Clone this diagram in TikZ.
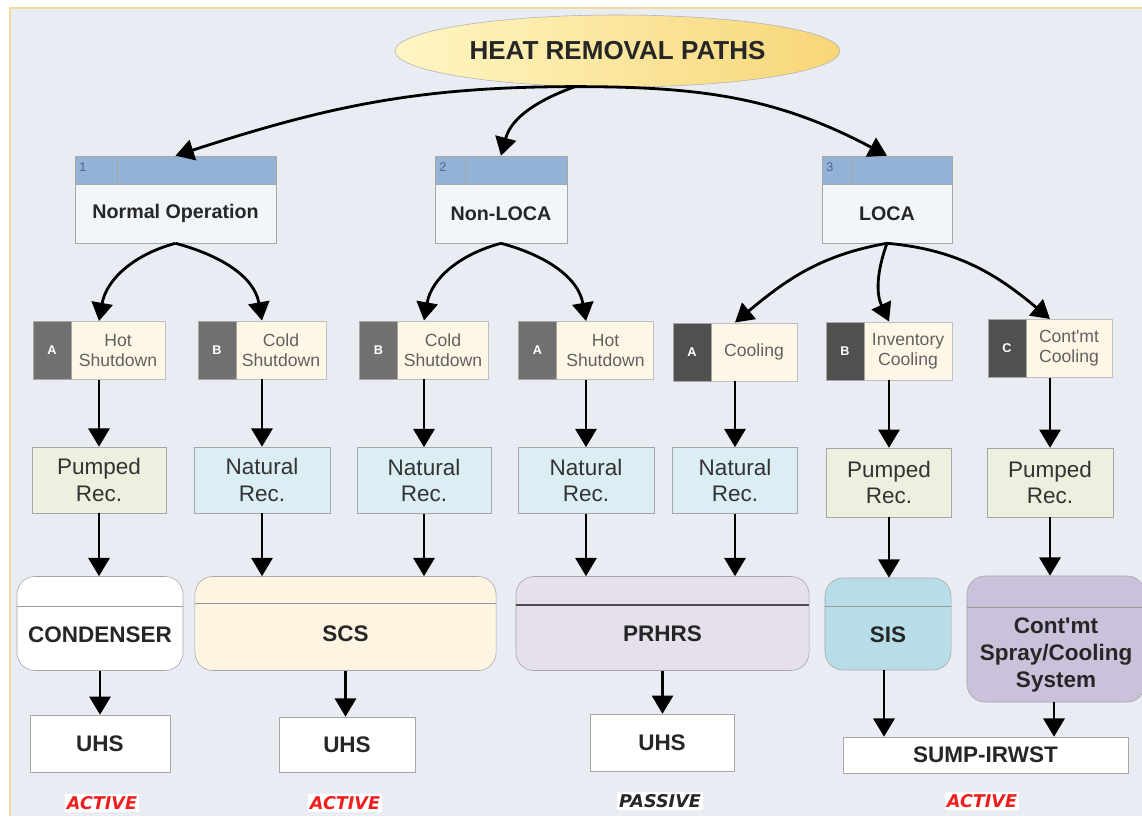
\documentclass[tikz,border=0pt]{standalone}
\usepackage{fontspec}
\setmainfont{Liberation Sans}
\newfontfamily\modefont{DejaVu Sans}
\usepackage{tikz}
\usetikzlibrary{shapes.geometric, positioning}
\usetikzlibrary{arrows.meta}

\definecolor{panelbg}{RGB}{233,236,242}
\definecolor{panelline}{RGB}{243,216,160}
\definecolor{hdrblue}{RGB}{148,178,214}
\definecolor{hdrnum}{RGB}{80,100,140}
\definecolor{opfill}{RGB}{240,246,250}
\definecolor{tagdark}{RGB}{112,112,112}
\definecolor{tagdarker}{RGB}{80,80,80}
\definecolor{cream}{RGB}{255,247,230}
\definecolor{pumpfill}{RGB}{235,241,222}
\definecolor{natfill}{RGB}{219,238,244}
\definecolor{scsfill}{RGB}{253,245,225}
\definecolor{prhrsfill}{RGB}{229,224,236}
\definecolor{sisfill}{RGB}{183,222,232}
\definecolor{cmtfill}{RGB}{204,193,218}
\definecolor{ttlA}{RGB}{255,246,196}
\definecolor{ttlB}{RGB}{247,214,120}
\definecolor{activered}{RGB}{240,30,30}

\tikzset{
  flow/.style={line width=2pt,-{Triangle[length=13pt,width=15pt]}},
  ophead/.style={rectangle,draw=gray!70,fill=hdrblue,minimum height=0.7cm,inner sep=0pt},
  opbody/.style={rectangle,draw=gray!70,fill=opfill,minimum height=1.475cm,inner sep=0pt,
    font=\fontsize{14}{16}\selectfont\bfseries,text=black!85},
  hdrnumber/.style={font=\fontsize{9}{10}\selectfont,text=hdrnum,inner sep=0pt},
  modebox/.style={rectangle,draw=gray!50,fill=cream,minimum height=1.46cm,inner sep=0pt},
  modetag/.style={rectangle,fill=tagdark,draw=gray!70,minimum height=1.46cm,minimum width=0.95cm,
    inner sep=0pt,font=\fontsize{9}{10}\selectfont\bfseries,text=white},
  modetxt/.style={rectangle,minimum height=1.46cm,inner sep=0pt,align=center,
    font=\fontsize{12.5}{14.2}\selectfont,text=black!62},
  recbox/.style={rectangle,draw=gray!70,minimum height=1.65cm,inner sep=0pt,align=center,
    font=\fontsize{16}{19}\selectfont,text=black!80},
  sysbox/.style={rectangle,rounded corners=0.45cm,draw=gray!70,minimum height=2.35cm,inner sep=0pt},
  systxt/.style={align=center,inner sep=0pt,font=\fontsize{16}{19.5}\selectfont\bfseries,text=black!85},
  sinkbox/.style={rectangle,draw=gray!70,fill=white,minimum height=1.42cm,inner sep=0pt,
    font=\fontsize{16}{19}\selectfont\bfseries,text=black!85},
  modelabel/.style={fill=white,inner sep=1.5pt,font=\modefont\fontsize{12.5}{14}\selectfont\bfseries\itshape}
}

\begin{document}
\begin{tikzpicture}[x=0.025cm,y=-0.025cm]
    \useasboundingbox (0,0) rectangle (1142,816);
    % background panel
    \fill[panelbg] (10,8) rectangle (1142,816);
    \draw[panelline,line width=1pt] (10,816)--(10,8)--(1142,8);

    % title
    \node[ellipse,draw=gray!60,left color=ttlA,right color=ttlB,minimum width=11.12cm,minimum height=1.8cm,
      font=\fontsize{18.5}{22}\selectfont\bfseries,text=black!85] (title) at (617.5,51) {HEAT REMOVAL PATHS};

    % level 1 : events
    \node[ophead,minimum width=5.025cm] (normalh) at (175.5,170) {};
    \node[opbody,minimum width=5.025cm] (normal) at (175.5,213.5) {Normal Operation};
    \draw[gray!70] (117,156)--(117,184);
    \node[hdrnumber] (num1) at (83,167) {1};

    \node[ophead,minimum width=3.3cm] (nonlocah) at (501,170) {};
    \node[opbody,minimum width=3.3cm] (nonloca) at (501,213.5) {Non-LOCA};
    \draw[gray!70] (465,156)--(465,184);
    \node[hdrnumber] (num2) at (443,167) {2};

    \node[ophead,minimum width=3.25cm] (locah) at (887,170) {};
    \node[opbody,minimum width=3.25cm] (loca) at (887,213.5) {LOCA};
    \draw[gray!70] (852,156)--(852,184);
    \node[hdrnumber] (num3) at (830,167) {3};

    \draw[flow] (title.220) to[out=180,in=18] (normalh.north);
    \draw[flow] (title.220) to[out=200,in=75] (nonlocah.north);
    \draw[flow] (title.220) to[out=0,in=152] (locah.north);

    % level 2 : modes
    \node[modebox,minimum width=3.3cm] (hot1) at (99,350.5) {};
    \node[modetag,anchor=west] (hot1tag) at (hot1.west) {A};
    \node[modetxt,anchor=east,minimum width=2.35cm] (hot1txt) at (hot1.east) {Hot\\Shutdown};

    \node[modebox,minimum width=3.2cm] (cold1) at (262,350) {};
    \node[modetag,anchor=west] (cold1tag) at (cold1.west) {B};
    \node[modetxt,anchor=east,minimum width=2.25cm] (cold1txt) at (cold1.east) {Cold\\Shutdown};

    \node[modebox,minimum width=3.225cm] (cold2) at (424,350) {};
    \node[modetag,anchor=west] (cold2tag) at (cold2.west) {B};
    \node[modetxt,anchor=east,minimum width=2.275cm] (cold2txt) at (cold2.east) {Cold\\Shutdown};

    \node[modebox,minimum width=3.375cm] (hot2) at (586,350.5) {};
    \node[modetag,anchor=west] (hot2tag) at (hot2.west) {A};
    \node[modetxt,anchor=east,minimum width=2.4cm] (hot2txt) at (hot2.east) {Hot\\Shutdown};

    \node[modebox,minimum width=3.1cm] (cool) at (735,352) {};
    \node[modetag,fill=tagdarker,anchor=west] (cooltag) at (cool.west) {A};
    \node[modetxt,anchor=east,minimum width=2.15cm] (cooltxt) at (cool.east) {Cooling};

    \node[modebox,minimum width=3.15cm] (inv) at (889,351) {};
    \node[modetag,fill=tagdarker,anchor=west] (invtag) at (inv.west) {B};
    \node[modetxt,anchor=east,minimum width=2.2cm] (invtxt) at (inv.east) {Inventory\\Cooling};

    \node[modebox,minimum width=3.1cm] (cmt) at (1050,348.5) {};
    \node[modetag,fill=tagdarker,anchor=west] (cmttag) at (cmt.west) {C};
    \node[modetxt,anchor=east,minimum width=2.15cm] (cmttxt) at (cmt.east) {Cont\textquotesingle mt\\Cooling};

    \draw[flow] (normal.south) to[out=195,in=80] (hot1.north);
    \draw[flow] (normal.south) to[out=-15,in=100] (cold1.north);
    \draw[flow] (nonloca.south) to[out=195,in=80] (cold2.north);
    \draw[flow] (nonloca.south) to[out=-15,in=100] (hot2.north);
    \draw[flow] (loca.south) to[out=190,in=40] (cool.north);
    \draw[flow] (loca.south) to[out=250,in=115] (inv.north);
    \draw[flow] (loca.south) to[out=-5,in=140] (cmt.north);

    % level 3 : recirculation
    \node[recbox,fill=pumpfill,minimum width=3.35cm] (rec1) at (99,480) {Pumped\\Rec.};
    \node[recbox,fill=natfill,minimum width=3.4cm] (rec2) at (262,480) {Natural\\Rec.};
    \node[recbox,fill=natfill,minimum width=3.35cm] (rec3) at (424,480.5) {Natural\\Rec.};
    \node[recbox,fill=natfill,minimum width=3.4cm] (rec4) at (586,480.5) {Natural\\Rec.};
    \node[recbox,fill=natfill,minimum width=3.125cm] (rec5) at (735,480.5) {Natural\\Rec.};
    \node[recbox,fill=pumpfill,minimum width=3.125cm,minimum height=1.72cm] (rec6) at (889,482.5) {Pumped\\Rec.};
    \node[recbox,fill=pumpfill,minimum width=3.15cm,minimum height=1.72cm] (rec7) at (1050,482.5) {Pumped\\Rec.};

    \draw[flow] (hot1) -- (rec1);
    \draw[flow] (cold1) -- (rec2);
    \draw[flow] (cold2) -- (rec3);
    \draw[flow] (hot2) -- (rec4);
    \draw[flow] (cool) -- (rec5);
    \draw[flow] (inv) -- (rec6);
    \draw[flow] (cmt) -- (rec7);

    % level 4 : systems
    \node[sysbox,fill=white,minimum width=4.15cm] (cond) at (100,623.5) {};
    \node[sysbox,fill=scsfill,minimum width=7.525cm] (scs) at (345.5,623.5) {};
    \node[sysbox,fill=prhrsfill,minimum width=7.325cm] (prhrs) at (662.5,623.5) {};
    \node[sysbox,fill=sisfill,minimum width=3.15cm,minimum height=2.3cm] (sis) at (888,624) {};
    \node[sysbox,fill=cmtfill,minimum width=4.45cm,minimum height=3.15cm] (spray) at (1056,639) {};
    \draw[gray!80] ([yshift=-0.75cm]cond.north west) -- ([yshift=-0.75cm]cond.north east);
    \draw[gray!80] ([yshift=-0.68cm]scs.north west) -- ([yshift=-0.68cm]scs.north east);
    \draw[black!70,line width=1pt] ([yshift=-0.72cm]prhrs.north west) -- ([yshift=-0.72cm]prhrs.north east);
    \draw[gray!80] ([yshift=-0.72cm]sis.north west) -- ([yshift=-0.72cm]sis.north east);
    \draw[gray!80] ([yshift=-0.78cm]spray.north west) -- ([yshift=-0.78cm]spray.north east);
    \node[systxt] (condtxt) at (100,635) {CONDENSER};
    \node[systxt] (scstxt) at (345.5,634) {SCS};
    \node[systxt] (prhrstxt) at (662.5,634) {PRHRS};
    \node[systxt] (sistxt) at (888,635) {SIS};
    \node[systxt] (spraytxt) at (1056,655) {Cont\textquotesingle mt\\Spray/Cooling\\System};

    \draw[flow] (rec1.south) -- (rec1.south |- cond.north);
    \draw[flow] (rec2.south) -- (rec2.south |- scs.north);
    \draw[flow] (rec3.south) -- (rec3.south |- scs.north);
    \draw[flow] (rec4.south) -- (rec4.south |- prhrs.north);
    \draw[flow] (rec5.south) -- (rec5.south |- prhrs.north);
    \draw[flow] (rec6.south) -- (rec6.south |- sis.north);
    \draw[flow] (rec7.south) -- (rec7.south |- spray.north);

    % level 5 : heat sinks
    \node[sinkbox,minimum width=3.5cm] (uhs1) at (100,743.5) {UHS};
    \node[sinkbox,minimum width=3.4cm,minimum height=1.375cm] (uhs2) at (347,744.5) {UHS};
    \node[sinkbox,minimum width=3.6cm] (uhs3) at (662,742.5) {UHS};
    \node[sinkbox,minimum width=7.125cm,minimum height=0.9cm] (sump) at (985.5,755) {SUMP-IRWST};

    \draw[flow] (cond.south) -- (cond.south |- uhs1.north);
    \draw[flow] (scs.south) -- (scs.south |- uhs2.north);
    \draw[flow] (prhrs.south) -- (prhrs.south |- uhs3.north);
    \draw[flow] ([xshift=-0.1cm]sis.south) -- ([xshift=-0.1cm]sis.south |- sump.north);
    \draw[flow] ([xshift=-0.05cm]spray.south) -- ([xshift=-0.05cm]spray.south |- sump.north);

    % modes
    \node[modelabel,text=activered] (act1) at (102,803) {ACTIVE};
    \node[modelabel,text=activered] (act2) at (345,803) {ACTIVE};
    \node[modelabel,text=black!85] (pass) at (660,801) {PASSIVE};
    \node[modelabel,text=activered] (act3) at (982,801) {ACTIVE};
\end{tikzpicture}
\end{document}
